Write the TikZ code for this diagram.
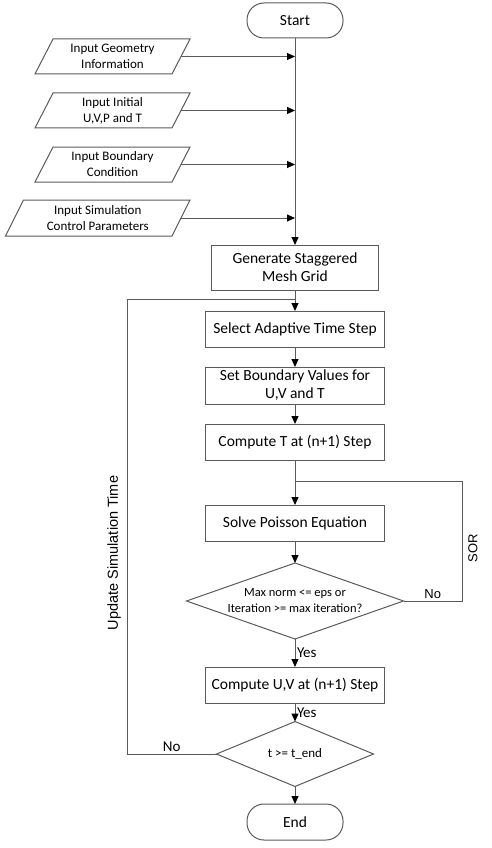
\documentclass[tikz,border=0pt]{standalone}
\usepackage{fontspec}
\setmainfont{Carlito}
\newfontfamily\arialf{Liberation Sans}
\usetikzlibrary{arrows.meta,shapes.geometric,calc}
\definecolor{lncol}{RGB}{90,90,90}
\tikzset{
 ln/.style={draw=lncol, line width=1pt},
 arr/.style={ln, -{Triangle[length=8pt,width=7pt,color=black]}},
 proc/.style={draw=lncol, line width=1pt, rectangle, minimum width=179pt, minimum height=36pt, inner sep=2pt, outer sep=0pt, align=center, font=\fontsize{15.5}{18}\selectfont},
 term/.style={draw=lncol, line width=1pt, rectangle, rounded corners=17pt, minimum width=96pt, minimum height=35pt, outer sep=0pt, font=\fontsize{15.5}{18}\selectfont},
 pbox/.style={rectangle, minimum height=35pt, outer sep=0pt, align=center, font=\fontsize{13}{16}\selectfont},
 dec/.style={draw=lncol, line width=1pt, diamond, inner sep=0pt, outer sep=0pt},
 lab/.style={font=\fontsize{15}{18}\selectfont, inner sep=1.5pt},
 arlab/.style={font=\arialf\fontsize{13}{16}\selectfont, inner sep=1.5pt},
}
\begin{document}
\begin{tikzpicture}[x=1pt,y=-1pt]
\useasboundingbox (0,0) rectangle (491,848);
% terminals and inputs
\node[term] (start) at (295,20.5) {Start};
\node[pbox, minimum width=137pt] (p1) at (112.5,56.5) {Input Geometry\\Information};
\node[pbox, minimum width=137pt] (p2) at (112.5,110.5) {Input Initial\\U,V,P and T};
\node[pbox, minimum width=137pt] (p3) at (112.5,164.5) {Input Boundary\\Condition};
\node[pbox, minimum width=166.5pt, minimum height=36pt] (p4) at (97.75,218) {Input Simulation\\Control Parameters};
\foreach \p in {p1,p2,p3,p4}
  \draw[ln] ([xshift=9pt]\p.north west) -- ([xshift=9pt]\p.north east) -- ([xshift=-9pt]\p.south east) -- ([xshift=-9pt]\p.south west) -- cycle;
% process boxes
\node[proc, minimum width=167pt, minimum height=45pt] (gen) at (295,267.5) {Generate Staggered\\Mesh Grid};
\node[proc] (sel) at (295,329) {Select Adaptive Time Step};
\node[proc, minimum height=37pt] (setb) at (295,385.5) {Set Boundary Values for\\U,V and T};
\node[proc] (compT) at (295,442) {Compute T at (n+1) Step};
\node[proc] (solve) at (295,523) {Solve Poisson Equation};
\node[dec, minimum width=217pt, minimum height=76pt] (d1) at (295,601) {};
\node[align=center, font=\fontsize{12.5}{16}\selectfont] (d1t) at (d1.center) {Max norm <= eps or\\Iteration >= max iteration?};
\node[proc] (uv) at (295,685) {Compute U,V at (n+1) Step};
\node[dec, minimum width=157pt, minimum height=52pt, font=\fontsize{13}{16}\selectfont] (d2) at (295,754) {t >= t\_end};
\node[term, minimum height=36pt] (stop) at (295,822) {End};
% join points
\coordinate (lj) at (295,299);
\coordinate (sj) at (295,481);
\coordinate (sr) at (462,481);
\coordinate (ul) at (127,754);
% main flow
\draw[arr] (start) -- (gen);
\foreach \p in {p1,p2,p3,p4}
  \draw[arr] (\p.east) -- (\p.east -| start.south);
\draw[arr] (gen) -- (sel);
\draw[arr] (sel) -- (setb);
\draw[arr] (setb) -- (compT);
\draw[arr] (compT) -- (solve);
\draw[arr] (solve) -- (d1);
\draw[arr] (d1) -- node[lab, anchor=west] {Yes} (uv);
\draw[arr] (uv) -- node[lab, anchor=west] {Yes} (d2);
\draw[arr] (d2) -- (stop);
% SOR loop
\draw[ln] (d1.east) -- node[arlab, above] {No} (d1.east -| sr) -- (sr) -- (sj);
\node[arlab, rotate=90] (sor) at (473,548) {SOR};
% time loop
\draw[ln] (d2.west) -- node[lab, above] {No} (ul) -- (ul |- lj) -- (lj);
\node[font=\arialf\fontsize{14.5}{17}\selectfont, rotate=90] (upd) at (114,553) {Update Simulation Time};
\end{tikzpicture}
\end{document}
